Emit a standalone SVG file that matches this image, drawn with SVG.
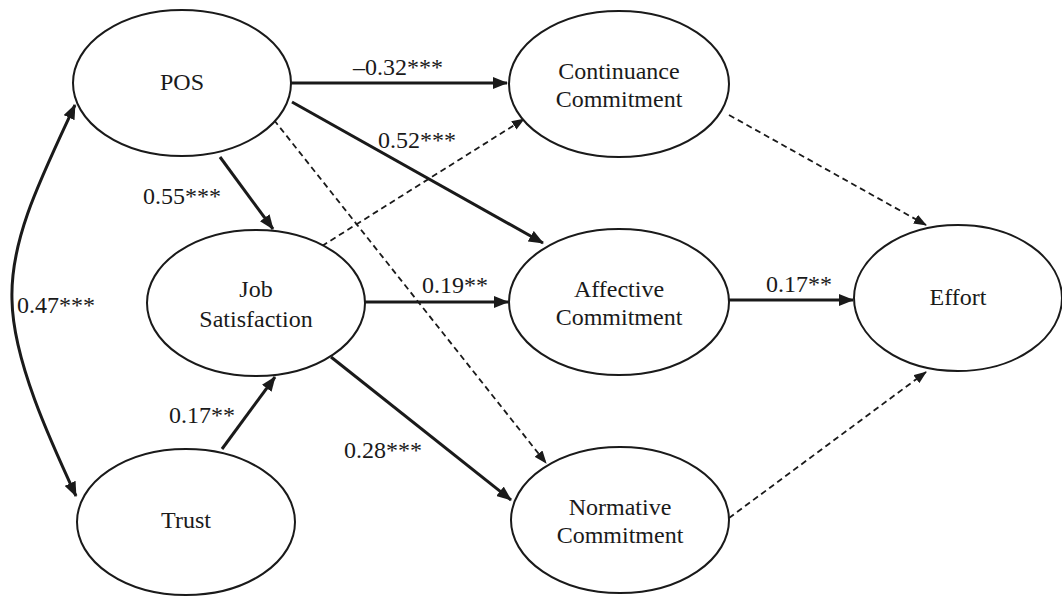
<svg xmlns="http://www.w3.org/2000/svg" width="1062" height="596" viewBox="0 0 1062 596">
<style>
.node ellipse{fill:#fff;stroke:#1a1a1a;stroke-width:2}
text{font-family:'Liberation Serif','DejaVu Serif','Times New Roman',serif;font-size:24px;fill:#1a1a1a}
.c{text-anchor:middle}
.solid{fill:none;stroke:#1a1a1a;stroke-width:3;marker-end:url(#ah)}
.dash{fill:none;stroke:#1a1a1a;stroke-width:1.8;stroke-dasharray:6 4;marker-end:url(#ahd)}
</style>
<defs>
<marker id="ah" viewBox="0 0 15 12" refX="14" refY="6" markerWidth="15" markerHeight="12" markerUnits="userSpaceOnUse" orient="auto-start-reverse"><path d="M0,0 L15,6 L0,12 z" fill="#1a1a1a"/></marker>
<marker id="ahd" viewBox="0 0 13 10" refX="12" refY="5" markerWidth="13" markerHeight="10" markerUnits="userSpaceOnUse" orient="auto"><path d="M0,0 L13,5 L0,10 z" fill="#1a1a1a"/></marker>
</defs>
<rect width="1062" height="596" fill="#fff"/>
<g id="connectors">
<path class="solid" d="M75,105 C40,180 10,240 12,300 C13,360 50,440 76,496" style="marker-start:url(#ah)"/>
<line class="solid" x1="291" y1="83" x2="507" y2="83"/>
<line class="solid" x1="292" y1="102" x2="543" y2="243"/>
<line class="dash" x1="274" y1="120" x2="546" y2="463"/>
<line class="solid" x1="220" y1="157" x2="273" y2="229"/>
<line class="dash" x1="322" y1="246" x2="524" y2="119"/>
<line class="solid" x1="365" y1="302" x2="508" y2="302"/>
<line class="solid" x1="331" y1="357" x2="511" y2="500"/>
<line class="solid" x1="222" y1="449" x2="275" y2="377"/>
<line class="dash" x1="729" y1="115" x2="926" y2="225"/>
<line class="solid" x1="729" y1="300" x2="853" y2="300"/>
<line class="dash" x1="729" y1="518" x2="926" y2="372"/>
<text x="17" y="313">0.47***</text>
<text class="c" x="398" y="75">–0.32***</text>
<text class="c" x="417" y="148">0.52***</text>
<text class="c" x="182" y="204">0.55***</text>
<text class="c" x="455" y="293">0.19**</text>
<text class="c" x="383" y="458">0.28***</text>
<text class="c" x="202" y="423">0.17**</text>
<text class="c" x="799" y="292">0.17**</text>
</g>
<g id="pos" class="node"><ellipse cx="182" cy="83" rx="109" ry="73"/><text class="c" x="182" y="90">POS</text></g>
<g id="jobsat" class="node"><ellipse cx="256" cy="303" rx="109" ry="73"/><text class="c" x="256" y="297">Job</text><text class="c" x="256" y="327">Satisfaction</text></g>
<g id="trust" class="node"><ellipse cx="186" cy="522" rx="109" ry="73"/><text class="c" x="186" y="528">Trust</text></g>
<g id="continuance" class="node"><ellipse cx="619" cy="84" rx="110" ry="73"/><text class="c" x="619" y="79">Continuance</text><text class="c" x="619" y="107">Commitment</text></g>
<g id="affective" class="node"><ellipse cx="619" cy="302" rx="110" ry="73"/><text class="c" x="619" y="297">Affective</text><text class="c" x="619" y="325">Commitment</text></g>
<g id="normative" class="node"><ellipse cx="620" cy="520" rx="109" ry="73"/><text class="c" x="620" y="515">Normative</text><text class="c" x="620" y="543">Commitment</text></g>
<g id="effort" class="node"><ellipse cx="958" cy="298" rx="104" ry="73"/><text class="c" x="958" y="305">Effort</text></g>
</svg>
